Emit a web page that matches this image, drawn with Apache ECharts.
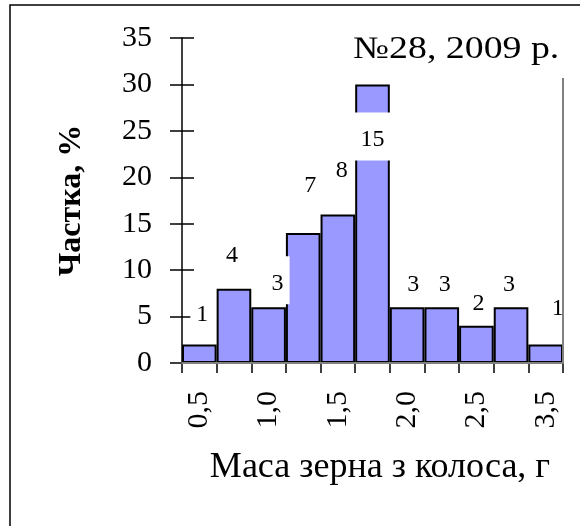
<!DOCTYPE html>
<html><head><meta charset="utf-8">
<script src="https://cdn.jsdelivr.net/npm/echarts@6/dist/echarts.min.js"></script>
<style>html,body{margin:0;padding:0;background:#fff}#c{width:580px;height:526px}</style>
</head><body><div id="c"></div>
<script>
const categories = ["0,5","","1,0","","1,5","","2,0","","2,5","","3,5"];
const sharePct = [2, 8, 6, 14, 16, 30, 6, 6, 4, 6, 2];
const counts = [1, 4, 3, 7, 8, 15, 3, 3, 2, 3, 1];
const yTicks = {min: 0, max: 35, interval: 5};
const titleText = "№28, 2009 р.";
const xName = "Маса зерна з колоса, г";
const yName = "Частка, %";

// label nudges (style only)
const labelNudge = [[3,-9],[-2,-12],[9,-3],[7,-26],[4,-23],[0,76],[6,-2],[3,-2],[2,-1],[-2,-2],[12,-15]];
const F = "'Liberation Serif', 'Times New Roman', serif";

const chart = echarts.init(document.getElementById('c'), null, {renderer: 'canvas'});
chart.setOption({
  animation: false,
  backgroundColor: '#fff',
  grid: {left: 182, right: 17, top: 38, bottom: 163, containLabel: false},
  graphic: [
    {type: 'rect', z: 0, shape: {x: 10, y: 5, width: 600, height: 600}, style: {fill: 'none', stroke: '#000', lineWidth: 1.5}},
    {type: 'rect', z: 100, shape: {x: 350, y: 20, width: 230, height: 58}, style: {fill: '#fff'}},
    {type: 'text', z: 101, x: 353, y: 34, scaleX: 1.22, style: {text: titleText, font: "31px 'Liberation Serif'", fill: '#000'}}
  ],
  xAxis: [{
    type: 'category', data: categories, position: 'bottom',
    boundaryGap: true,
    name: xName, nameLocation: 'middle', nameGap: 87,
    nameTextStyle: {fontFamily: F, fontSize: 36, color: '#000', padding: [0, 0, 0, 15]},
    axisLine: {lineStyle: {color: '#000', width: 2}},
    axisTick: {show: true, length: 10, alignWithLabel: false, interval: 0, lineStyle: {color: '#000', width: 1.5}},
    axisLabel: {interval: 0, rotate: 90, margin: 28, fontFamily: F, fontSize: 30, color: '#000'}
  }, {
    type: 'category', data: categories, position: 'top', z: 5,
    axisLine: {show: true, lineStyle: {color: '#808080', width: 2}},
    axisTick: {show: false}, axisLabel: {show: false}
  }],
  yAxis: [{
    type: 'value', min: yTicks.min, max: yTicks.max, interval: yTicks.interval,
    name: yName, nameLocation: 'middle', nameGap: 94, nameRotate: 90,
    nameTextStyle: {fontFamily: F, fontSize: 32, fontWeight: 'bold', color: '#000'},
    axisLine: {show: true, lineStyle: {color: '#000', width: 1.5}},
    axisTick: {show: true, length: 12, lineStyle: {color: '#000', width: 1.5}},
    axisLabel: {margin: 30, fontFamily: F, fontSize: 30, color: '#000'},
    splitLine: {show: false}
  }, {
    type: 'value', min: yTicks.min, max: yTicks.max, interval: yTicks.interval, position: 'left',
    axisLine: {show: false},
    axisTick: {show: true, inside: true, length: 12, lineStyle: {color: '#000', width: 1.5}},
    axisLabel: {show: false}, splitLine: {show: false}
  }, {
    type: 'value', min: yTicks.min, max: yTicks.max, interval: yTicks.interval, position: 'right', z: 5,
    axisLine: {show: true, lineStyle: {color: '#808080', width: 2}},
    axisTick: {show: false}, axisLabel: {show: false}, splitLine: {show: false}
  }],
  series: [{
    type: 'bar', xAxisIndex: 0, yAxisIndex: 0,
    barCategoryGap: '0%',
    itemStyle: {color: '#9999FF', borderColor: '#000', borderWidth: 2},
    data: sharePct.map((v, i) => ({
      value: v,
      label: {
        show: true, position: 'top', distance: 0,
        offset: labelNudge[i],
        formatter: String(counts[i]),
        fontFamily: F, fontSize: 24, color: '#000', lineHeight: 22,
        backgroundColor: '#fff', padding: [16, 6, 10, 6]
      }
    }))
  }]
});
</script></body></html>
